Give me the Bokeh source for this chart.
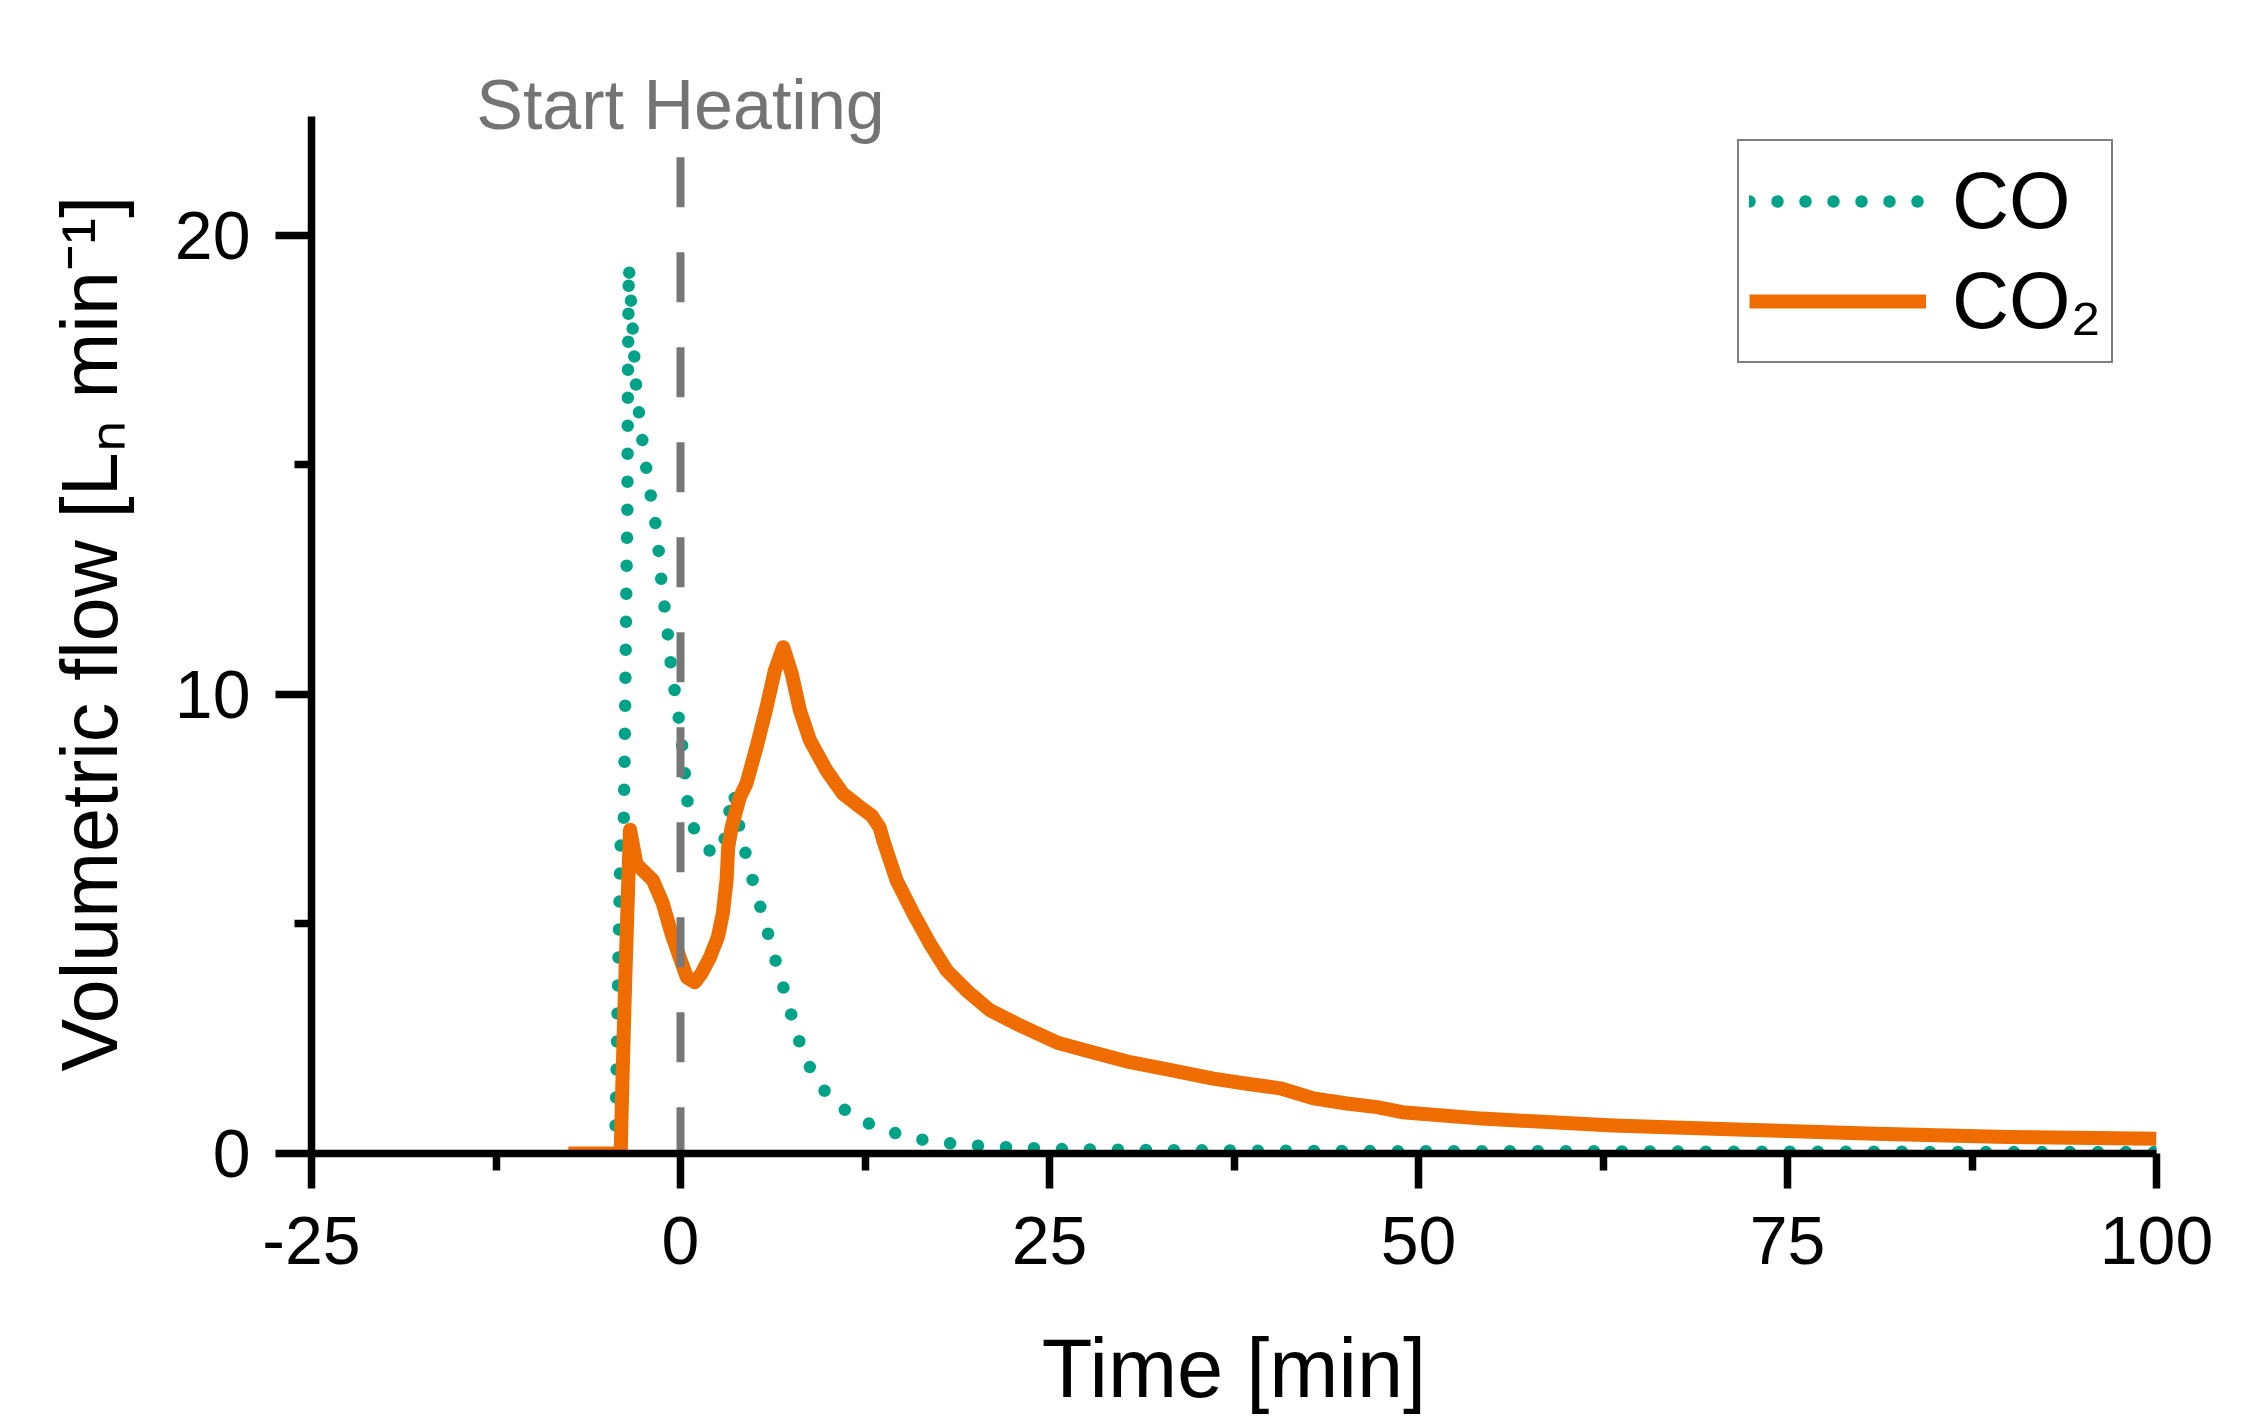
from bokeh.plotting import figure
from bokeh.models import Range1d, FixedTicker, Label, Legend, LegendItem, Title
from bokeh.embed import file_html
from bokeh.resources import INLINE

# ---------------- data ----------------
co_time = [-4.45, -4.39, -4.23, -4.07, -3.84, -3.75, -3.68, -3.6, -3.56, -3.5,
           -3.44, -3.32, -3.21, -3.1, -2.98, -2.76, -2.53, -2.26, -1.97, -1.67,
           -1.45, -1.29, -1.06, -0.84, -0.66, -0.39, -0.12, 0.11, 0.29, 0.45,
           0.81, 1.53, 2.2, 2.78, 3.15, 3.46, 3.62, 3.8, 4.24, 4.7,
           5.2, 5.72, 6.24, 6.73, 7.3, 7.75, 8.36, 9.1, 10.1, 11.75,
           13.5, 15.3, 17.2, 19.05, 20.8, 22.8, 25, 30, 40, 50,
           60, 70, 80, 90, 100]
co_flow = [0.0, 0.72, 3.7, 6.67, 7.3, 9.7, 12.0, 14.0, 17.0, 19.35,
           19.0, 18.4, 17.8, 17.2, 16.6, 16.0, 15.4, 14.8, 14.25, 13.66,
           13.05, 12.45, 11.85, 11.26, 10.67, 10.07, 9.49, 8.89, 8.31, 7.71,
           7.15, 6.69, 6.55, 6.53, 7.1, 7.76, 7.9, 7.4, 6.75, 6.17,
           5.6, 5.03, 4.44, 3.86, 3.28, 2.72, 2.16, 1.65, 1.22, 0.79,
           0.55, 0.37, 0.25, 0.2, 0.15, 0.13, 0.1, 0.08, 0.06, 0.05,
           0.05, 0.04, 0.04, 0.03, 0.03]

co2_time = [-7.6, -4.05, -3.98, -3.78, -3.5, -3.42, -2.98, -1.87, -1.2, -0.61,
            -0.05, 0.43, 0.97, 1.42, 1.99, 2.53, 2.87, 3.12, 3.23, 3.46,
            4.02, 4.47, 5.15, 5.83, 6.39, 6.96, 7.53, 8.09, 8.77, 9.9,
            11.0, 12.16, 12.95, 13.5, 13.74, 14.64, 15.77, 16.9, 18.03, 19.39,
            20.97, 23.0, 25.49, 27.53, 30.46, 32.72, 36.1, 38.37, 40.63, 42.89,
            45.15, 47.19, 48.9, 54.3, 63.2, 72.1, 81.0, 89.9, 100]
co2_flow = [0.0, 0.0, 1.0, 3.4, 6.3, 7.05, 6.3, 5.95, 5.45, 4.79,
            4.27, 3.84, 3.73, 3.92, 4.27, 4.71, 5.23, 5.95, 6.67, 7.1,
            7.76, 8.06, 8.85, 9.72, 10.52, 11.03, 10.46, 9.65, 9.0, 8.34,
            7.84, 7.55, 7.36, 7.1, 6.82, 5.95, 5.23, 4.57, 3.99, 3.55,
            3.12, 2.79, 2.42, 2.24, 1.99, 1.85, 1.63, 1.52, 1.42, 1.2,
            1.09, 1.01, 0.9, 0.76, 0.61, 0.52, 0.43, 0.36, 0.32]

heating_time = [0, 0]
heating_span = [21.7, 0]
heating_text = "Start Heating"

x_ticks = [-25, 0, 25, 50, 75, 100]
x_tick_labels = ["-25", "0", "25", "50", "75", "100"]
x_minor = [-12.5, 12.5, 37.5, 62.5, 87.5]
y_ticks = [0, 10, 20]
y_tick_labels = ["0", "10", "20"]
y_minor = [5, 15]
y_axis_top = 22.6

series_labels = ["CO", "CO\u2082"]
x_label = "Time [min]"
y_label = "Volumetric flow [L\u2099 min\u207b\u00b9]"

# ---------------- style ----------------
GREEN = "#00A387"
ORANGE = "#EF6C00"
GRAY = "#777777"
FONT = "Liberation Sans"

p = figure(width=2240, height=1418, output_backend="svg", toolbar_location=None,
           x_range=Range1d(-25, 100), y_range=Range1d(0, 23.81),
           min_border_left=311, min_border_right=84,
           min_border_top=60, min_border_bottom=265)
p.outline_line_color = None
p.grid.visible = False
p.background_fill_color = "white"
p.border_fill_color = "white"

co_r = p.line(co_time, co_flow, line_color=GREEN, line_width=12.5,
              line_dash="0 28", line_cap="round", line_join="round")
co2_r = p.line(co2_time, co2_flow, line_color=ORANGE, line_width=14,
               line_join="round")
p.line(heating_time, heating_span, line_color=GRAY, line_width=8,
       line_dash="50 45")

p.add_layout(Label(x=heating_time[0], y=22.85, text=heating_text,
                   text_align="center", text_baseline="alphabetic",
                   text_font=FONT, text_font_size="70px", text_color="#747474"))

# axes
xa = p.xaxis[0]
xa.ticker = FixedTicker(ticks=x_ticks, minor_ticks=x_minor)
xa.major_label_overrides = {t: s for t, s in zip(x_ticks, x_tick_labels)}
xa.axis_label = x_label
ya = p.yaxis[0]
ya.ticker = FixedTicker(ticks=y_ticks, minor_ticks=y_minor)
ya.major_label_overrides = {t: s for t, s in zip(y_ticks, y_tick_labels)}
ya.bounds = (0, y_axis_top)

for ax in (xa, ya):
    ax.axis_line_width = 7.5
    ax.axis_line_color = "black"
    ax.major_tick_line_width = 7.5
    ax.minor_tick_line_width = 7.5
    ax.major_tick_line_color = "black"
    ax.minor_tick_line_color = "black"
    ax.major_tick_in = 0
    ax.minor_tick_in = 0
    ax.major_label_text_font = FONT
    ax.major_label_text_font_size = "68px"
    ax.major_label_text_color = "black"
    ax.axis_label_text_font = FONT
    ax.axis_label_text_font_style = "normal"
    ax.axis_label_text_color = "black"

xa.axis_label_text_font_size = "83px"
xa.major_tick_out = 35
xa.minor_tick_out = 17
xa.major_label_standoff = 28
xa.axis_label_standoff = 55
ya.major_tick_out = 36
ya.minor_tick_out = 17
ya.major_label_standoff = 25

# y label as a left-side title so it can be placed along the lower part
ytitle = Title(text=y_label, align="left", offset=82, standoff=76,
               text_font=FONT, text_font_size="79px", text_font_style="normal",
               text_color="black")
p.add_layout(ytitle, "left")

legend = Legend(items=[LegendItem(label=series_labels[0], renderers=[co_r]),
                       LegendItem(label=series_labels[1], renderers=[co2_r])],
                location=(1426, 790))
legend.label_text_font = FONT
legend.label_text_font_size = "79px"
legend.label_text_color = "black"
legend.glyph_width = 177
legend.glyph_height = 100
legend.label_height = 100
legend.label_standoff = 26
legend.padding = 10
legend.spacing = 0
legend.margin = 0
legend.border_line_color = "black"
legend.border_line_width = 2.5
legend.background_fill_color = "white"
legend.background_fill_alpha = 1
p.add_layout(legend)

open("out.html", "w").write(file_html(p, INLINE))
